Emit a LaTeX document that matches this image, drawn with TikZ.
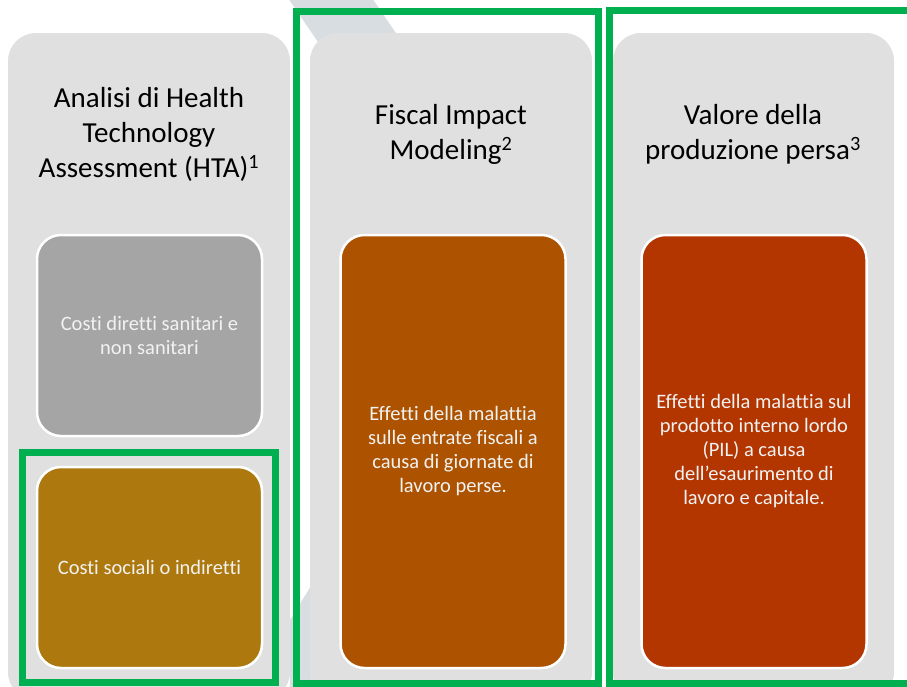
\documentclass[tikz,border=0pt]{standalone}
\usepackage{fontspec}
\setmainfont[Ligatures=CommonOff]{Carlito}
\definecolor{colgrey}{HTML}{E0E0E0}
\definecolor{bandgrey}{HTML}{D7DDE1}
\definecolor{boxgrey}{HTML}{A5A5A5}
\definecolor{boxgold}{HTML}{AD790E}
\definecolor{boxorange}{HTML}{AD5300}
\definecolor{boxred}{HTML}{B33500}
\definecolor{frame}{HTML}{00B050}
\definecolor{lighttext}{HTML}{F2F2F2}
\begin{document}
\begin{tikzpicture}[x=1pt,y=-1pt,
  column/.style={fill=colgrey, rounded corners=28pt},
  heading/.style={align=center, text=black, font=\fontsize{29}{35}\selectfont, inner sep=0pt},
  inner/.style={draw=white, line width=2.5pt, rounded corners=24pt, inner sep=4pt, outer sep=0pt,
                minimum width=225pt, align=center, text=lighttext,
                font=\fontsize{20.5}{24}\selectfont},
  greenframe/.style={draw=frame, line width=7pt}]
\useasboundingbox (0,0) rectangle (907,686);
\clip (0,0) rectangle (907,686);
\fill[white] (0,0) rectangle (907,686);
% background band
\fill[bandgrey] (288,-2) -- (372,-2) -- (402,42) -- (318,42) -- cycle;
\fill[bandgrey] (311,586) -- (311,690) -- (290,690) -- (290,620) -- cycle;
% columns
\fill[column] (8,33) rectangle (290,700);
\fill[column] (310,33) rectangle (592,700);
\fill[column] (613,33) rectangle (894,700);
% headings
\node[heading] (h1) at (149,134) {Analisi di Health\\Technology\\Assessment (HTA)\textsuperscript{1}};
\node[heading] (h2) at (451,134) {Fiscal Impact\\Modeling\textsuperscript{2}};
\node[heading] (h3) at (753,134) {Valore della\\produzione persa\textsuperscript{3}};
% inner boxes
\node[inner, fill=boxgrey, minimum height=201pt] (b1a) at (149.5,335.5) {Costi diretti sanitari e\\non sanitari};
\node[inner, fill=boxgold, minimum height=201pt] (b1b) at (149.5,567.5) {Costi sociali o indiretti};
\node[inner, fill=boxorange, minimum height=433pt] (b2) at (453,451.5) {Effetti della malattia\\sulle entrate fiscali a\\causa di giornate di\\lavoro perse.};
\node[inner, fill=boxred, minimum height=433pt] (b3) at (754,451.5) {Effetti della malattia sul\\prodotto interno lordo\\(PIL) a causa\\dell’esaurimento di\\lavoro e capitale.};
% green frames
\draw[greenframe] (22,452) rectangle (275,682);
\draw[greenframe] (296,11) rectangle (598,683);
\draw[greenframe] (609,10) rectangle (915,683);
\end{tikzpicture}
\end{document}
